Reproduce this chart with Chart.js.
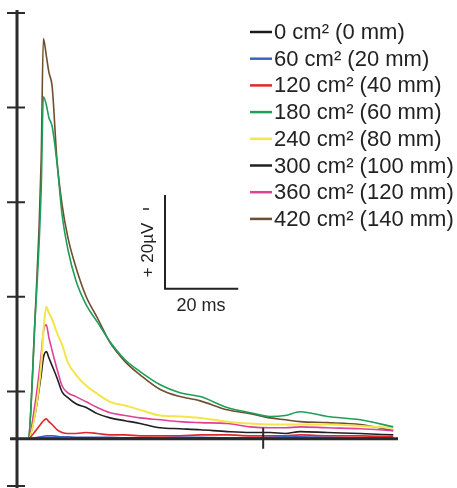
<!DOCTYPE html>
<html>
<head>
<meta charset="utf-8">
<script src="https://cdn.jsdelivr.net/npm/chart.js@4.4.0/dist/chart.umd.min.js"></script>
<style>
	html, body { margin: 0; padding: 0; background: #fff; }
	#wrap { width: 457px; height: 488px; position: relative; }
</style>
</head>
<body>
<div id="wrap"><canvas id="mycanvas"></canvas></div>
<script>
// time after stimulus (ms) and response amplitude (µV)
var timeMs = [0, 3.0, 4.9, 6.6, 7.2, 8.0, 8.7, 9.6, 10.9, 12.3, 13.9, 16.1, 18.9, 21.9, 25.4, 29.5, 33.6, 39.1, 44.5, 50.0, 57.4, 63.7, 69.1, 73.2, 77.3, 84.7, 93.7, 102.7];

var labels = ["0 cm² (0 mm)", "60 cm² (20 mm)", "120 cm² (40 mm)", "180 cm² (60 mm)",
	"240 cm² (80 mm)", "300 cm² (100 mm)", "360 cm² (120 mm)", "420 cm² (140 mm)"];

var v0   = [0, 0, 0, 0.1, 0.1, 0.1, 0.1, 0.1, 0.1, 0, 0, 0.1, 0.1, 0, 0, 0.1, 0.1, 0, 0, 0.1, 0.1, 0, 0, 0.1, 0.1, 0, 0, 0];
var v60  = [0, 0, 0.2, 0.4, 0.5, 0.6, 0.6, 0.6, 0.5, 0.4, 0.4, 0.3, 0.3, 0.3, 0.3, 0.2, 0.2, 0.2, 0.3, 0.3, 0.2, 0.2, 0.3, 0.4, 0.4, 0.3, 0.2, 0.2];
var v120 = [0, 0, 1.5, 3.2, 3.8, 4.2, 3.6, 3.0, 1.9, 1.3, 1.1, 1.1, 1.3, 1.1, 0.8, 0.8, 0.6, 0.6, 0.6, 0.8, 0.8, 0.6, 0.6, 0.6, 0.8, 0.6, 0.6, 0.4];
var v180 = [0, 0, 24.7, 52.6, 72.3, 70.6, 67.9, 66.0, 58.4, 47.4, 40.0, 33.4, 28.3, 24.7, 20.5, 16.7, 14.2, 11.4, 9.7, 8.9, 6.6, 5.5, 4.7, 4.9, 5.7, 4.7, 4.0, 2.5];
var v240 = [0, 0, 5.1, 15.6, 22.6, 27.9, 26.6, 25.2, 22.4, 19.9, 16.1, 13.5, 11.2, 9.5, 7.8, 7.0, 6.1, 4.9, 4.7, 4.4, 3.6, 3.2, 3.0, 3.0, 3.0, 3.0, 2.7, 2.3];
var v300 = [0, 0, 5.1, 13.5, 17.1, 18.4, 17.1, 15.4, 12.9, 9.9, 8.7, 7.4, 6.6, 5.3, 4.4, 3.8, 3.2, 2.3, 2.1, 1.9, 1.5, 1.3, 1.3, 1.1, 1.5, 1.3, 1.1, 0.8];
var v360 = [0, 0, 7.2, 17.8, 22.6, 24.1, 21.4, 18.6, 14.8, 11.2, 9.7, 8.9, 7.8, 6.6, 5.5, 4.9, 4.4, 4.0, 3.6, 3.4, 3.2, 2.5, 2.3, 2.3, 2.5, 2.3, 2.1, 1.7];
var v420 = [0, 0, 25.2, 59.0, 84.6, 81.0, 77.5, 74.4, 59.0, 49.5, 42.5, 36.2, 30.0, 25.6, 20.3, 16.3, 13.5, 10.4, 8.9, 8.0, 6.1, 5.3, 4.4, 4.0, 3.6, 3.4, 3.0, 1.7];

var yTicks = [-10, 10, 30, 50, 70, 90];
var xTicks = [67.2];

var colors = ["#1a1a1a", "#3b62c4", "#e3262c", "#1f9e5a", "#f2e64a", "#202020", "#e0409a", "#6e4e2e"];
var series = [v0, v60, v120, v180, v240, v300, v360, v420];

function toPoints(vals){
	var pts = [];
	for(var i in vals){
		pts.push({x: timeMs[i], y: vals[i]});
	}
	return pts;
}

var datasets = [];
for(var i = 0; i < series.length; i++){
	datasets.push({
		label: labels[i],
		data: toPoints(series[i]),
		borderColor: colors[i],
		borderWidth: i == 4 ? 2 : 1.6,
		pointRadius: 0,
		fill: false,
		cubicInterpolationMode: 'monotone'
	});
}

// axes, scale bar and legend are drawn by hand like in the figure
var decor = {
	id: 'decor',
	afterDatasetsDraw: function(chart){
		var c = chart.ctx;
		var xs = chart.scales.x, ys = chart.scales.y;
		var x0 = xs.getPixelForValue(0), y0 = ys.getPixelForValue(0);
		c.save();
		c.strokeStyle = "#2b2b2b";
		c.lineWidth = 3;
		c.beginPath();
		c.moveTo(x0, ys.getPixelForValue(90) - 3);
		c.lineTo(x0, 488);
		c.moveTo(x0 - 7, y0);
		c.lineTo(xs.getPixelForValue(104), y0);
		c.stroke();

		c.lineWidth = 2;
		c.beginPath();
		for(var i in yTicks){
			var ty = ys.getPixelForValue(yTicks[i]);
			c.moveTo(x0 - 10, ty);
			c.lineTo(x0 + 8, ty);
		}
		for(var j in xTicks){
			var tx = xs.getPixelForValue(xTicks[j]);
			c.moveTo(tx, y0 - 11);
			c.lineTo(tx, y0 + 10);
		}
		c.stroke();

		// scale bar 20 ms x 20 µV
		var bx = xs.getPixelForValue(40.4), by = ys.getPixelForValue(31.7);
		var bx2 = xs.getPixelForValue(60.4), by2 = ys.getPixelForValue(51.5);
		c.strokeStyle = "#222";
		c.lineWidth = 2;
		c.beginPath();
		c.moveTo(bx, by2);
		c.lineTo(bx, by);
		c.lineTo(bx2, by);
		c.stroke();

		c.fillStyle = "#222";
		c.font = "18px 'Liberation Sans', Arial, sans-serif";
		c.textAlign = "center";
		c.textBaseline = "middle";
		c.fillText("20 ms", 201, 306);

		c.font = "17px 'Liberation Sans', Arial, sans-serif";
		c.save();
		c.translate(148, 250);
		c.rotate(-Math.PI / 2);
		c.fillText("+ 20µV", 0, 0);
		c.restore();
		c.lineWidth = 1.5;
		c.beginPath();
		c.moveTo(143, 209);
		c.lineTo(149, 209);
		c.stroke();

		// legend
		c.font = "22px 'Liberation Sans', Arial, sans-serif";
		c.textAlign = "left";
		for(var k = 0; k < labels.length; k++){
			var ly = 32 + k * 26.7;
			c.strokeStyle = colors[k];
			c.lineWidth = 2.5;
			c.beginPath();
			c.moveTo(250, ly);
			c.lineTo(272, ly);
			c.stroke();
			c.fillStyle = "#222";
			c.fillText(labels[k], 274, ly + 1);
		}
		c.restore();
	}
};

var ctx = document.getElementById("mycanvas");
var LineGraph = new Chart(ctx, {
	type: 'line',
	data: { datasets: datasets },
	options: {
		responsive: true,
		maintainAspectRatio: false,
		animation: false,
		layout: { padding: { left: 17, right: 59, top: 13, bottom: 2 } },
		plugins: { legend: { display: false }, tooltip: { enabled: false } },
		scales: {
			x: { type: 'linear', min: 0, max: 104, display: false },
			y: { type: 'linear', min: -10, max: 90, display: false }
		}
	},
	plugins: [decor]
});
</script>
</body>
</html>
